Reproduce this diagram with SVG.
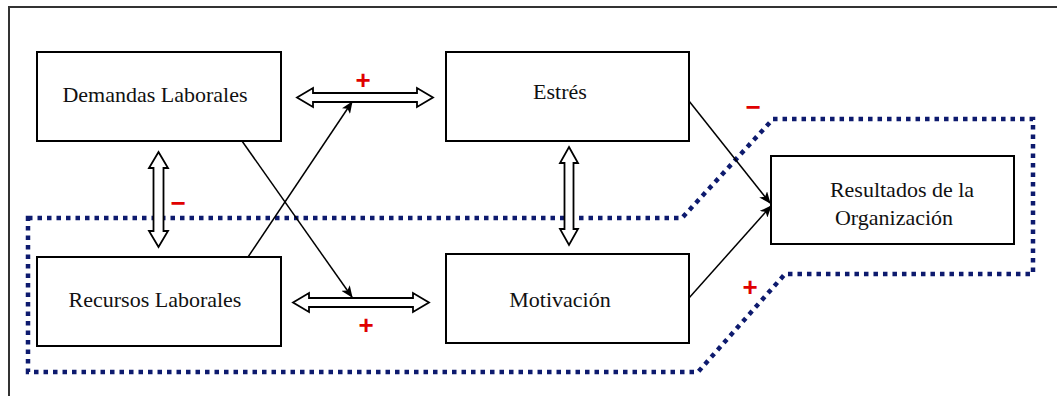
<svg xmlns="http://www.w3.org/2000/svg" width="1057" height="396" viewBox="0 0 1057 396">
<defs>
<marker id="ah" viewBox="0 0 12 10" refX="11" refY="5" markerWidth="12" markerHeight="10" markerUnits="userSpaceOnUse" orient="auto">
<path d="M0,0 L12,5 L0,10 L3,5 Z" fill="#000"/>
</marker>
</defs>
<style>
.box{fill:#fff;stroke:#000;stroke-width:2}
.lbl{font-family:'Liberation Serif','Times New Roman','DejaVu Serif',serif;font-size:22px;fill:#111;text-anchor:middle}
.dbl{fill:#fff;stroke:#000;stroke-width:1.8;stroke-linejoin:miter}
.ln{fill:none;stroke:#000;stroke-width:1.5;marker-end:url(#ah)}
.sign{font-family:'Liberation Sans',Arial,sans-serif;font-weight:bold;font-size:26px;fill:#e00000;text-anchor:middle}
.dot{fill:none;stroke:#0d1a6e;stroke-width:4.5;stroke-dasharray:4.5 5}
</style>
<rect x="0" y="0" width="1057" height="396" fill="#fff"/>
<rect x="9" y="7" width="1070" height="420" fill="none" stroke="#333" stroke-width="2"/>
<path class="dot" d="M28,218 L682,218 L773,119 L1033,119 L1033,274 L785,274 L698,372 L28,372 Z"/>
<g id="demandas"><rect class="box" x="37" y="52" width="244" height="89"/><text class="lbl" font-family="Liberation Serif, serif" x="155" y="102">Demandas Laborales</text></g>
<g id="estres"><rect class="box" x="446" y="52" width="243" height="89"/><text class="lbl" font-family="Liberation Serif, serif" x="560" y="99">Estrés</text></g>
<g id="recursos"><rect class="box" x="37" y="257" width="244" height="89"/><text class="lbl" font-family="Liberation Serif, serif" x="155" y="307">Recursos Laborales</text></g>
<g id="motivacion"><rect class="box" x="446" y="254" width="243" height="89"/><text class="lbl" font-family="Liberation Serif, serif" x="560" y="307">Motivación</text></g>
<g id="resultados"><rect class="box" x="771" y="156" width="243" height="88"/><text class="lbl" font-family="Liberation Serif, serif" x="902" y="197">Resultados de la</text><text class="lbl" font-family="Liberation Serif, serif" x="894" y="225">Organización</text></g>
<g id="connectors">
<path class="dbl" d="M297,97.5 L313,88 L313,93 L417,93 L417,88 L433,97.5 L417,107 L417,102 L313,102 L313,107 Z"/>
<path class="dbl" d="M293,302.5 L309,293 L309,298 L413,298 L413,293 L429,302.5 L413,312 L413,307 L309,307 L309,312 Z"/>
<path class="dbl" d="M158.5,152 L168,168 L163.5,168 L163.5,231 L168,231 L158.5,247 L149,231 L153.5,231 L153.5,168 L149,168 Z"/>
<path class="dbl" d="M569,147 L578,163 L573.5,163 L573.5,229 L578,229 L569,245 L560,229 L564.5,229 L564.5,163 L560,163 Z"/>
<line class="ln" x1="242" y1="141" x2="352" y2="297"/>
<line class="ln" x1="248" y1="257" x2="352" y2="102"/>
<line class="ln" x1="689" y1="101" x2="770" y2="203"/>
<line class="ln" x1="689" y1="298" x2="771" y2="206"/>
</g>
<g id="signs">
<text class="sign" x="363" y="89">+</text>
<text class="sign" x="366" y="334">+</text>
<text class="sign" x="750" y="296">+</text>
<text class="sign" x="178" y="212">−</text>
<text class="sign" x="753" y="116">−</text>
</g>
</svg>
